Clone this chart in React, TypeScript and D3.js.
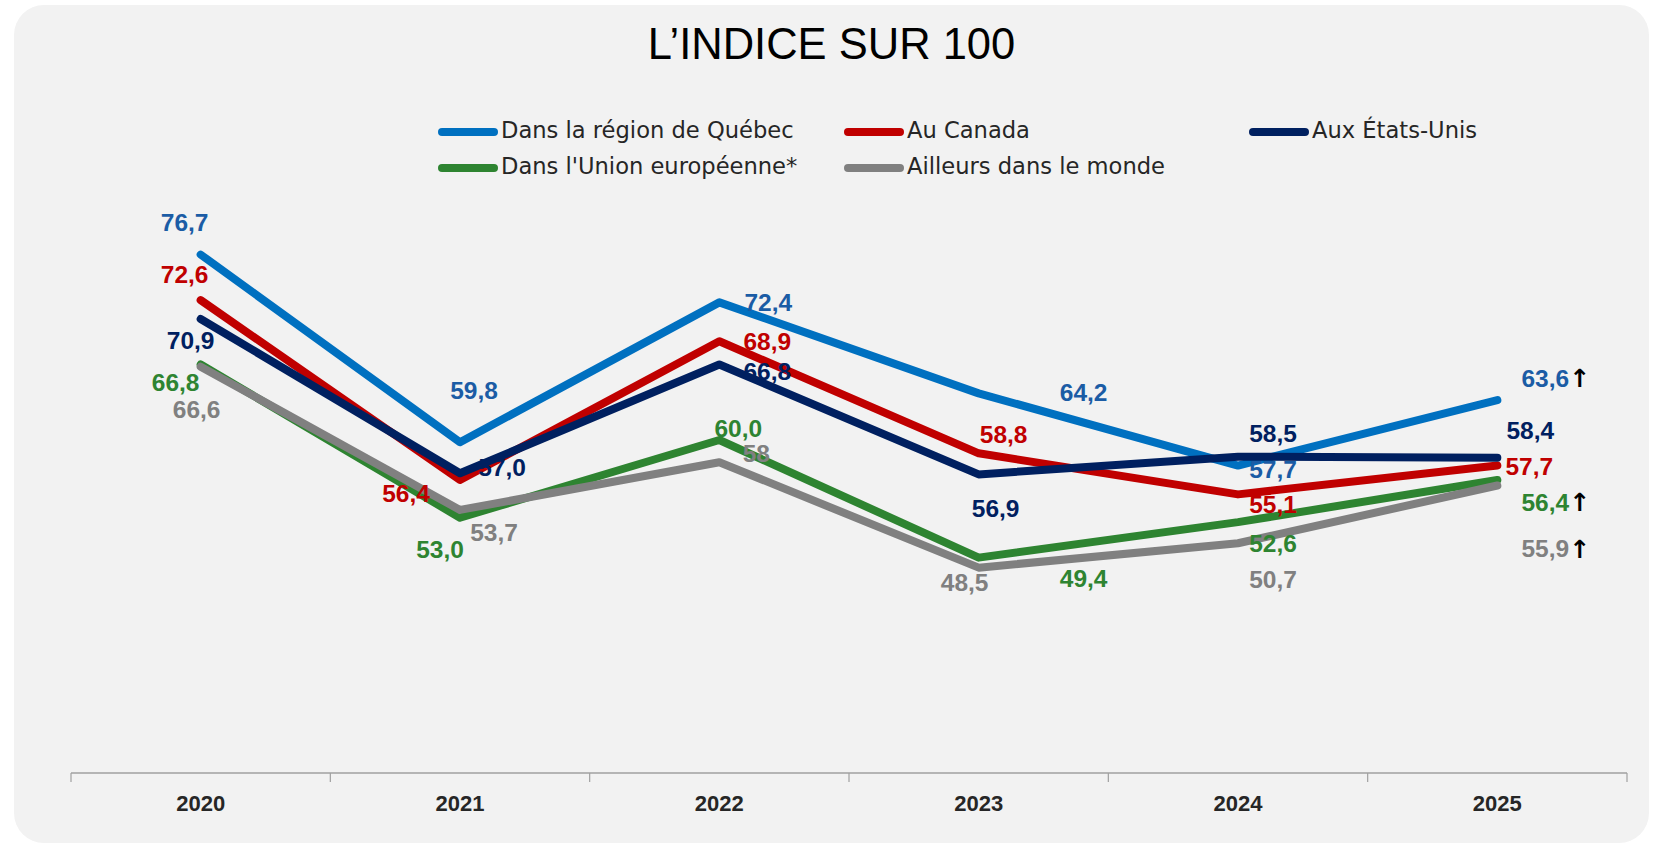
import React from "react";
import * as d3 from "d3";

const years = ["2020", "2021", "2022", "2023", "2024", "2025"];

const quebec = [76.7, 59.8, 72.4, 64.2, 57.7, 63.6];
const canada = [72.6, 56.4, 68.9, 58.8, 55.1, 57.7];
const usa = [70.9, 57.0, 66.8, 56.9, 58.5, 58.4];
const europe = [66.8, 53.0, 60.0, 49.4, 52.6, 56.4];
const ailleurs = [66.6, 53.7, 58, 48.5, 50.7, 55.9];

const seriesNames = [
  "Dans la région de Québec",
  "Au Canada",
  "Aux États-Unis",
  "Dans l'Union européenne*",
  "Ailleurs dans le monde",
];

// label text overrides (as printed on the chart)
const ailleursLabelText = [null, null, "58", null, null, null];
// series whose last label carries an upward arrow
const arrowOnLast = [true, false, false, true, true];

// label offsets from the point [dx, dy] in px (layout)
const quebecLabelOffset = [[-16, -32], [14, -52], [49, 0], [105, -1], [35, 4], [48, -22]];
const canadaLabelOffset = [[-16, -26], [-54, 13], [48, 0], [25, -19], [35, 10], [32, 1]];
const usaLabelOffset = [[-10, 21], [42, -6], [48, 7], [17, 34], [35, -23], [33, -28]];
const europeLabelOffset = [[-25, 18], [-20, 31], [19, -12], [105, 21], [35, 21], [48, 22]];
const ailleursLabelOffset = [[-4, 42], [34, 22], [37, -9], [-14, 15], [35, 36], [48, 63]];

const lineColors = ["#0070C0", "#C00000", "#002060", "#2E8431", "#808080"];
const labelColors = ["#1B5CA5", "#C00000", "#002060", "#2E8431", "#808080"];

const W = 1655;
const H = 845;

export default function App() {
  const data = [quebec, canada, usa, europe, ailleurs];
  const offsets = [quebecLabelOffset, canadaLabelOffset, usaLabelOffset, europeLabelOffset, ailleursLabelOffset];
  const overrides = [null, null, null, null, ailleursLabelText];

  const x = d3.scaleBand<string>().domain(years).range([71, 1627]).padding(0);
  const y = d3.scaleLinear().domain([30, 80]).range([773, 218]);
  const cx = (yr: string) => (x(yr) as number) + x.bandwidth() / 2;

  const line = d3
    .line<number>()
    .x((_, i) => cx(years[i]))
    .y((v) => y(v));

  const fmt = (v: number) => d3.format(".1f")(v).replace(".", ",");

  const legendItems = [
    { i: 0, lx: 438, ly: 132 },
    { i: 1, lx: 844, ly: 132 },
    { i: 2, lx: 1249, ly: 132 },
    { i: 3, lx: 438, ly: 168 },
    { i: 4, lx: 844, ly: 168 },
  ];

  const tickPositions = [...years.map((yr) => x(yr) as number), 1627];

  return (
    <svg
      width={W}
      height={H}
      style={{ position: "absolute", left: 0, top: 0, background: "#ffffff" }}
    >
      <rect x={14} y={5} width={1635} height={838} rx={30} ry={30} fill="#F2F2F2" />
      <text
        x={831.5}
        y={58.5}
        textAnchor="middle"
        fontFamily="Liberation Sans, Arial, sans-serif"
        fontSize={43.5}
        fill="#000"
      >
        L’INDICE SUR 100
      </text>

      {legendItems.map(({ i, lx, ly }) => (
        <g key={i}>
          <line
            x1={lx + 4}
            x2={lx + 56}
            y1={ly}
            y2={ly}
            stroke={lineColors[i]}
            strokeWidth={8}
            strokeLinecap="round"
          />
          <text
            x={lx + 63}
            y={ly + 6}
            fontFamily="DejaVu Sans, sans-serif"
            fontSize={22.6}
            fill="#262626"
          >
            {seriesNames[i]}
          </text>
        </g>
      ))}

      {/* axis */}
      <line x1={71} x2={1627} y1={773} y2={773} stroke="#A0A0A0" strokeWidth={1.5} />
      {tickPositions.map((t, i) => (
        <line key={i} x1={t} x2={t} y1={773} y2={782} stroke="#A0A0A0" strokeWidth={1.2} />
      ))}
      {years.map((yr) => (
        <text
          key={yr}
          x={cx(yr)}
          y={811}
          textAnchor="middle"
          fontFamily="Liberation Sans, Arial, sans-serif"
          fontWeight="bold"
          fontSize={22}
          fill="#262626"
        >
          {yr}
        </text>
      ))}

      {/* lines */}
      {data.map((s, i) => (
        <path
          key={i}
          d={line(s) as string}
          fill="none"
          stroke={lineColors[i]}
          strokeWidth={8}
          strokeLinejoin="round"
          strokeLinecap="round"
        />
      ))}

      {/* labels */}
      {data.map((s, si) =>
        s.map((v, j) => {
          const [dx, dy] = offsets[si][j];
          const px = cx(years[j]) + dx;
          const py = y(v) + dy;
          const ov = overrides[si];
          const txt = ov && ov[j] ? (ov[j] as string) : fmt(v);
          const arrow = arrowOnLast[si] && j === s.length - 1;
          return (
            <g key={`${si}-${j}`}>
              <text
                x={px}
                y={py}
                dy="0.36em"
                textAnchor="middle"
                fontFamily="Liberation Sans, Arial, sans-serif"
                fontWeight="bold"
                fontSize={24.5}
                fill={labelColors[si]}
              >
                {txt}
              </text>
              {arrow && (
                <text
                  x={px + 24}
                  y={py}
                  dy="0.36em"
                  fontFamily="DejaVu Sans, sans-serif"
                  fontWeight="bold"
                  fontSize={25}
                  fill="#000"
                >
                  ↑
                </text>
              )}
            </g>
          );
        })
      )}
    </svg>
  );
}
